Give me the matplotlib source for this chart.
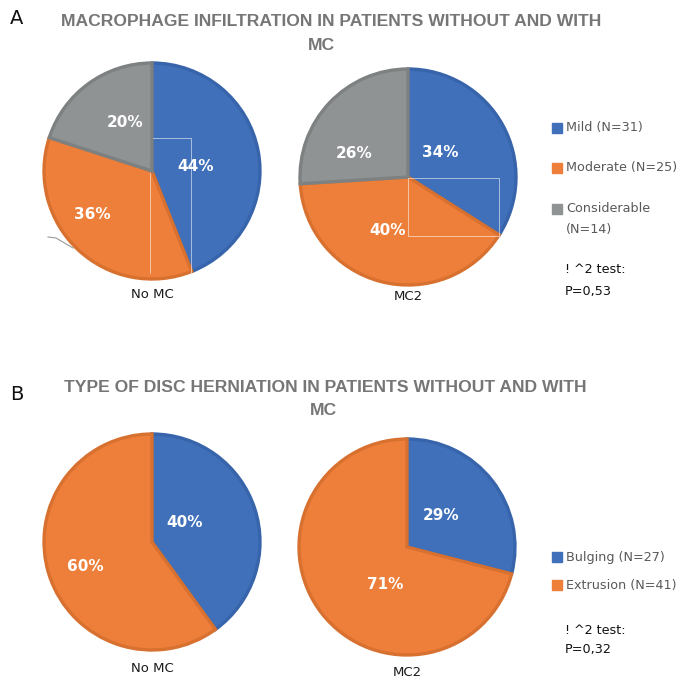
import matplotlib
matplotlib.use("Agg")
import matplotlib.pyplot as plt

W, H = 682, 684

# ---------------- data ----------------
cats_a = ["Mild (N=31)", "Moderate (N=25)", "Considerable\n(N=14)"]
a_nomc = [44, 36, 20]
a_mc2 = [34, 40, 26]
cats_b = ["Bulging (N=27)", "Extrusion (N=41)"]
b_nomc = [40, 60]
b_mc2 = [29, 71]
group_labels = ["No MC", "MC2"]
title_a = "MACROPHAGE INFILTRATION IN PATIENTS WITHOUT AND WITH"
title_b = "TYPE OF DISC HERNIATION IN PATIENTS WITHOUT AND WITH"
test_a = ["! ^2 test:", "P=0,53"]
test_b = ["! ^2 test:", "P=0,32"]

# ---------------- style ----------------
fills = ["#3f70b9", "#ee7f3a", "#8f9393"]
edges = ["#3764aa", "#d8702f", "#7d8181"]
TITLE_FONT = ["Liberation Sans", "DejaVu Sans"]
TXT_FONT = ["DejaVu Sans"]

fig = plt.figure(figsize=(W / 100, H / 100), dpi=100)
fig.patch.set_facecolor("white")


def fx(x):
    return x / W


def fy(y):
    return 1 - y / H


def make_pie(cx, cy, r, values, label_pos):
    pad = 1.04
    ax = fig.add_axes([fx(cx - r * pad), fy(cy + r * pad), 2 * r * pad / W, 2 * r * pad / H])
    n = len(values)
    wedges, _, autotexts = ax.pie(values, colors=fills[:n], startangle=90, counterclock=False,
                                  autopct="%.0f%%", radius=1,
                                  wedgeprops=dict(linewidth=2.4),
                                  textprops=dict(color="white", fontsize=11, fontweight="bold",
                                                 family=TXT_FONT))
    for w, ec in zip(wedges, edges[:n]):
        w.set_edgecolor(ec)
    for t, p in zip(autotexts, label_pos):
        t.set_position(p)
    ax.set_xlim(-pad, pad)
    ax.set_ylim(-pad, pad)
    ax.set_aspect("equal")
    ax.axis("off")
    return ax


# Panel A
make_pie(152, 171, 108, a_nomc, [(0.40, 0.04), (-0.55, -0.40), (-0.25, 0.45)])
make_pie(408, 177, 108, a_mc2, [(0.30, 0.23), (-0.19, -0.50), (-0.50, 0.22)])
# Panel B
make_pie(152, 542, 108, b_nomc, [(0.30, 0.18), (-0.62, -0.23)])
make_pie(407, 547, 108, b_mc2, [(0.32, 0.29), (-0.20, -0.35)])

# artifact lines seen in reference (thin light boxes)
line_kw = dict(color="#ffffff", lw=0.7, alpha=0.55, transform=fig.transFigure)
fig.add_artist(plt.Line2D([fx(153), fx(191), fx(191)], [fy(138), fy(138), fy(273)], **line_kw))
fig.add_artist(plt.Line2D([fx(150), fx(150)], [fy(173), fy(273)], **line_kw))
fig.add_artist(plt.Line2D([fx(408), fx(499), fx(499), fx(408), fx(408)],
                          [fy(178), fy(178), fy(236), fy(236), fy(178)], **line_kw))
fig.add_artist(plt.Line2D([fx(48), fx(56), fx(73)], [fy(237), fy(238), fy(248)],
                          color="#9a9a9a", lw=0.8, transform=fig.transFigure))

# group labels
for (x, y), s in zip([(152, 294), (408, 296)], group_labels):
    fig.text(fx(x), fy(y), s, ha="center", va="center", fontsize=9.5, color="#1a1a1a", family=TXT_FONT)
for (x, y), s in zip([(152, 668), (407, 673)], group_labels):
    fig.text(fx(x), fy(y), s, ha="center", va="center", fontsize=9.5, color="#1a1a1a", family=TXT_FONT)

# panel letters
fig.text(fx(10), fy(18), "A", ha="left", va="center", fontsize=14, color="#111111", family=TXT_FONT)
fig.text(fx(10), fy(395), "B", ha="left", va="center", fontsize=14, color="#111111", family=TXT_FONT)

# titles
tkw = dict(ha="center", va="center", fontsize=12.6, fontweight="bold", color="#767676", family=TITLE_FONT)
fig.text(fx(331), fy(21), title_a, **tkw)
fig.text(fx(321), fy(45), "MC", **tkw)
fig.text(fx(325), fy(387), title_b, **tkw)
fig.text(fx(323), fy(410), "MC", **tkw)

# legends
def legend(items, ys, colors):
    for s, y, c in zip(items, ys, colors):
        fig.patches.append(plt.Rectangle((fx(552), fy(y + 5)), 10 / W, 10 / H, color=c,
                                         transform=fig.transFigure, figure=fig))
        fig.text(fx(566), fy(y), s.split("\n")[0], ha="left", va="center", fontsize=9.2,
                 color="#595959", family=TXT_FONT)
        if "\n" in s:
            fig.text(fx(566), fy(y + 20), s.split("\n")[1], ha="left", va="center", fontsize=9.2,
                     color="#595959", family=TXT_FONT)


legend(cats_a, [128, 168, 209], fills)
legend(cats_b, [557, 585], fills[:2])
for s, y in zip(test_a, [269, 291]):
    fig.text(fx(565), fy(y), s, ha="left", va="center", fontsize=9.2, color="#111111", family=TXT_FONT)
for s, y in zip(test_b, [630, 650]):
    fig.text(fx(565), fy(y), s, ha="left", va="center", fontsize=9.2, color="#111111", family=TXT_FONT)

fig.savefig("out.png", dpi=100, facecolor="white")
